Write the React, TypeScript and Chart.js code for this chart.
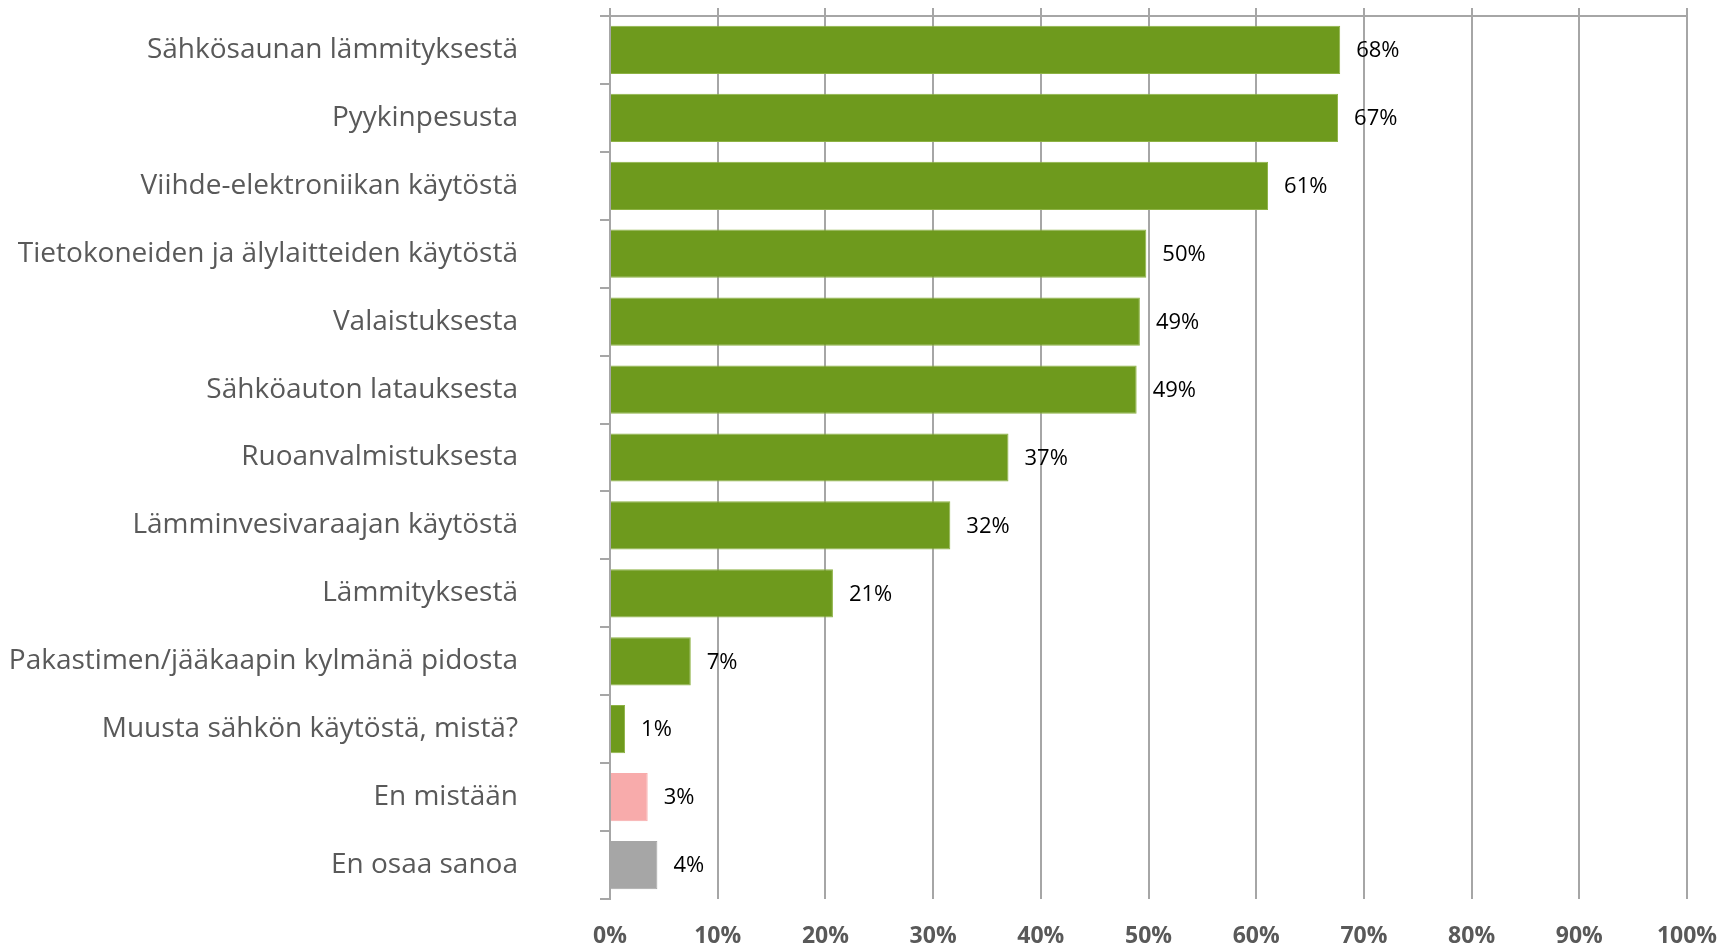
import React, { useEffect, useRef } from "react";
import { Chart, registerables } from "chart.js";

Chart.register(...registerables);

const categories = [
  "Sähkösaunan lämmityksestä",
  "Pyykinpesusta",
  "Viihde-elektroniikan käytöstä",
  "Tietokoneiden ja älylaitteiden käytöstä",
  "Valaistuksesta",
  "Sähköauton latauksesta",
  "Ruoanvalmistuksesta",
  "Lämminvesivaraajan käytöstä",
  "Lämmityksestä",
  "Pakastimen/jääkaapin kylmänä pidosta",
  "Muusta sähkön käytöstä, mistä?",
  "En mistään",
  "En osaa sanoa",
];

const values = [67.8, 67.6, 61.1, 49.8, 49.2, 48.9, 37.0, 31.6, 20.7, 7.5, 1.4, 3.5, 4.4];

const valueLabels = ["68%", "67%", "61%", "50%", "49%", "49%", "37%", "32%", "21%", "7%", "1%", "3%", "4%"];

const barColors = [
  "#6E9A1D", "#6E9A1D", "#6E9A1D", "#6E9A1D", "#6E9A1D", "#6E9A1D", "#6E9A1D",
  "#6E9A1D", "#6E9A1D", "#6E9A1D", "#6E9A1D", "#F8ABAB", "#A6A6A6",
];

const barBorders = [
  "#8DB244", "#8DB244", "#8DB244", "#8DB244", "#8DB244", "#8DB244", "#8DB244",
  "#8DB244", "#8DB244", "#8DB244", "#8DB244", "#F8ABAB", "#A6A6A6",
];

const xTicks = [0, 10, 20, 30, 40, 50, 60, 70, 80, 90, 100];

const GRID = "#A6A6A6";
const FONT = "'Open Sans', 'Noto Sans', sans-serif";

const valueLabelPlugin = {
  id: "valueLabels",
  afterDatasetsDraw(chart: any) {
    const ctx = chart.ctx;
    const meta = chart.getDatasetMeta(0);
    ctx.save();
    ctx.font = `22px ${FONT}`;
    ctx.fillStyle = "#000000";
    ctx.textBaseline = "middle";
    ctx.textAlign = "left";
    meta.data.forEach((bar: any, i: number) => {
      ctx.fillText(valueLabels[i], bar.x + 16, bar.y + 1);
    });
    ctx.restore();
  },
};

export default function App() {
  const canvasRef = useRef<HTMLCanvasElement | null>(null);

  useEffect(() => {
    const canvas = canvasRef.current;
    if (!canvas) return;
    const chart = new Chart(canvas, {
      type: "bar",
      data: {
        labels: categories,
        datasets: [
          {
            data: values,
            backgroundColor: barColors,
            borderColor: barBorders,
            borderWidth: 1,
            barPercentage: 0.71,
            categoryPercentage: 1.0,
            xAxisID: "x",
            yAxisID: "y",
          },
        ],
      },
      options: {
        indexAxis: "y",
        animation: false,
        responsive: false,
        devicePixelRatio: 1,
        layout: { padding: { top: 8, right: 42, bottom: 0, left: 0 } },
        plugins: {
          legend: { display: false },
          tooltip: { enabled: false },
          title: { display: false },
        },
        scales: {
          x: {
            type: "linear",
            position: "top",
            min: 0,
            max: 100,
            afterBuildTicks: (s: any) => {
              s.ticks = xTicks.map((v) => ({ value: v }));
            },
            ticks: { display: false },
            grid: {
              color: GRID,
              lineWidth: 2,
              drawTicks: true,
              tickLength: 8,
              drawOnChartArea: true,
            },
            border: { display: true, color: GRID, width: 2 },
            afterFit: (s: any) => {
              s.height = 8;
              s.paddingLeft = 0;
              s.paddingRight = 0;
            },
          },
          x2: {
            type: "linear",
            position: "bottom",
            min: 0,
            max: 100,
            afterBuildTicks: (s: any) => {
              s.ticks = xTicks.map((v) => ({ value: v }));
            },
            ticks: {
              callback: (v: any) => `${v}%`,
              color: "#595959",
              font: { family: FONT, size: 23, weight: "bold" },
              padding: 24,
              maxRotation: 0,
              autoSkip: false,
            },
            grid: { display: false, drawTicks: false },
            border: { display: false },
            afterFit: (s: any) => {
              s.height = 48;
              s.paddingLeft = 0;
              s.paddingRight = 0;
            },
          },
          y: {
            type: "category",
            position: "left",
            ticks: {
              color: "#595959",
              font: { family: FONT, size: 28 },
              padding: 82,
              autoSkip: false,
            },
            grid: {
              offset: true,
              color: GRID,
              lineWidth: 2,
              drawOnChartArea: false,
              drawTicks: true,
              tickLength: 10,
            },
            border: { display: true, color: GRID, width: 2 },
            afterFit: (s: any) => {
              s.width = 610;
              s.paddingTop = 0;
              s.paddingBottom = 0;
            },
          },
        },
      } as any,
      plugins: [valueLabelPlugin],
    });

    let alive = true;
    if ((document as any).fonts && (document as any).fonts.load) {
      Promise.all([
        (document as any).fonts.load(`28px 'Open Sans'`),
        (document as any).fonts.load(`bold 23px 'Open Sans'`),
      ])
        .then(() => {
          if (alive) chart.update();
        })
        .catch(() => {});
    }

    return () => {
      alive = false;
      chart.destroy();
    };
  }, []);

  return (
    <div style={{ position: "fixed", left: 0, top: 0, width: 1729, height: 947, background: "#ffffff" }}>
      <canvas ref={canvasRef} width={1729} height={947} style={{ display: "block", width: 1729, height: 947 }} />
    </div>
  );
}
